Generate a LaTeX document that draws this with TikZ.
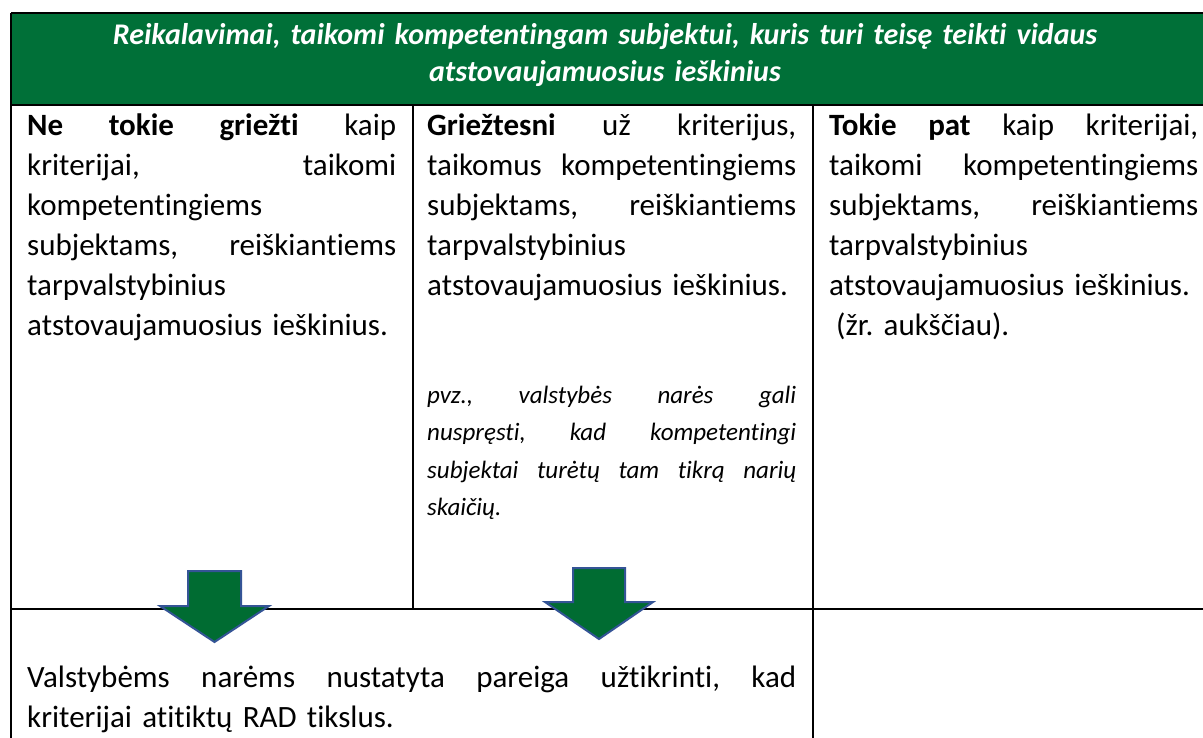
\documentclass[tikz,border=0pt]{standalone}
\usepackage{fontspec}
\setmainfont{Carlito}[Ligatures={NoCommon}]
\definecolor{hdrgreen}{RGB}{0,112,56}
\definecolor{arrgreen}{RGB}{0,108,50}
\definecolor{arrblue}{RGB}{52,84,150}
\newcommand{\jline}[2][369pt]{\leavevmode\hbox to #1{\spaceskip=0.226em plus 1fil\relax #2}}
\frenchspacing
\begin{document}
\begin{tikzpicture}[x=1pt,y=-1pt,
  grid/.style={line width=2.6pt,black},
  celltext/.style={anchor=base west,inner sep=0pt,text width=369pt,align=left,
    font=\fontsize{31}{40}\selectfont},
  extext/.style={anchor=base west,inner sep=0pt,text width=369pt,align=left,
    font=\fontsize{25}{37.5}\selectfont\itshape},
  hdrtext/.style={anchor=base,inner sep=0pt,text width=1190pt,align=center,text=white,
    font=\fontsize{30}{37}\selectfont\bfseries\itshape},
  blockarrow/.style={fill=arrgreen,draw=arrblue,line width=2pt,line join=miter}
]
\useasboundingbox (0,0) rectangle (1203,737);
\clip (0,0) rectangle (1203,737);
\fill[white] (0,0) rectangle (1203,737);
% header
\fill[hdrgreen] (11,13) rectangle (1213,105);
\node[hdrtext] (hdr) at (605,44) {Reikalavimai, taikomi kompetentingam subjektui, kuris turi teisę teikti vidaus\\atstovaujamuosius ieškinius};
% grid
\draw[grid] (11,13) -- (1213,13);
\draw[grid] (11,105) -- (1213,105);
\draw[grid] (11,609) -- (1213,609);
\draw[grid] (11,13) -- (11,760);
\draw[grid] (413,105) -- (413,609);
\draw[grid] (813,105) -- (813,760);
\draw[grid] (1213,13) -- (1213,760);
% cells
\node[celltext] (c1) at (27,135) {\jline{\textbf{Ne tokie griežti} kaip}\\
\jline{kriterijai, taikomi}\\
kompetentingiems\\
\jline{subjektams, reiškiantiems}\\
tarpvalstybinius\\
atstovaujamuosius ieškinius.};
\node[celltext] (c2) at (427,135) {\jline{\textbf{Griežtesni} už kriterijus,}\\
\jline{taikomus kompetentingiems}\\
\jline{subjektams, reiškiantiems}\\
tarpvalstybinius\\
atstovaujamuosius ieškinius.};
\node[extext] (c2ex) at (427,403) {\jline{pvz., valstybės narės gali}\\
\jline{nuspręsti, kad kompetentingi}\\
\jline{subjektai turėtų tam tikrą narių}\\
skaičių.};
\node[celltext] (c3) at (829,135) {\jline{\textbf{Tokie pat} kaip kriterijai,}\\
\jline{taikomi kompetentingiems}\\
\jline{subjektams, reiškiantiems}\\
tarpvalstybinius\\
atstovaujamuosius ieškinius.\\
\hspace*{7pt}(žr. aukščiau).};
\node[celltext,text width=769pt] (bot) at (27,687) {\jline[769pt]{Valstybėms narėms nustatyta pareiga užtikrinti, kad}\\
kriterijai atitiktų RAD tikslus.};
% block arrows
\draw[blockarrow] (188,571) -- (241,571) -- (241,606) -- (269,606) -- (214.5,642) -- (160,606) -- (188,606) -- cycle;
\draw[blockarrow] (573,568) -- (625,568) -- (625,602) -- (653,602) -- (599,639) -- (545,602) -- (573,602) -- cycle;
\end{tikzpicture}
\end{document}
